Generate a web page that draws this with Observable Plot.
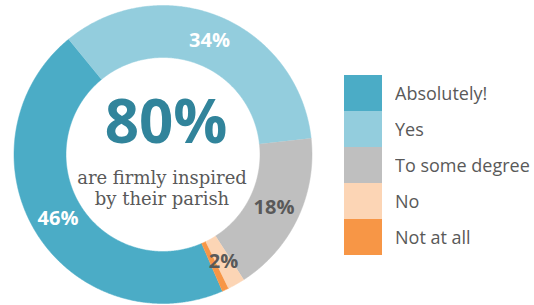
<!DOCTYPE html>
<html>
<head>
<meta charset="utf-8">
<script src="https://cdn.jsdelivr.net/npm/d3@7"></script>
<script src="https://cdn.jsdelivr.net/npm/@observablehq/plot@0.6"></script>
<style>
  html, body { margin: 0; padding: 0; background: #fff; }
  #wrap { position: relative; width: 534px; height: 305px; overflow: hidden; }
  #chart { position: absolute; left: 0; top: 0; }
  #legend { position: absolute; left: 344px; top: 75px; }
  .lg-swatches { font-family: "Open Sans", sans-serif !important; font-size: 18px !important; color: #595959 !important; margin: 0 !important; }
  .lg-swatch { padding: 0 !important; margin: 0 !important; height: 36px; display: flex !important; align-items: center !important; }
  .lg-swatch svg { margin-right: 13px !important; }
</style>
</head>
<body>
<div id="wrap"><div id="chart"></div><div id="legend"></div></div>
<script>
const categories = ["Absolutely!", "Yes", "To some degree", "No", "Not at all"];
const values = [45.6, 34.2, 17.6, 1.9, 0.7];
const labels = ["46%", "34%", "18%", "2%", ""];
const colors = ["#4BACC6", "#93CDDD", "#BFBFBF", "#FCD5B5", "#F79646"];
const lightLabel = [true, true, false, false, false];
const centerValue = "80%";
const centerText = "are firmly inspired\nby their parish";

const startDeg = 156.5;
const innerR = 97 / 149;

const pie = d3.pie().sort(null).value(d => d.value)
  .startAngle(startDeg * Math.PI / 180)
  .endAngle(startDeg * Math.PI / 180 + 2 * Math.PI);
const table = categories.map((c, i) => ({cat: c, value: values[i], label: labels[i], light: lightLabel[i]}));
const arcs = pie(table);

const pts = [];
for (const a of arcs) {
  const n = Math.max(4, Math.ceil((a.endAngle - a.startAngle) / (0.4 * Math.PI / 180)));
  for (let k = 0; k <= n; k++) {
    const t = a.startAngle + (a.endAngle - a.startAngle) * k / n;
    pts.push({cat: a.data.cat, x: Math.sin(t), y: Math.cos(t)});
  }
  for (let k = n; k >= 0; k--) {
    const t = a.startAngle + (a.endAngle - a.startAngle) * k / n;
    pts.push({cat: a.data.cat, x: innerR * Math.sin(t), y: innerR * Math.cos(t)});
  }
}
const midR = (1 + innerR) / 2;
const labelData = arcs.filter(a => a.data.label).map(a => {
  const m = (a.startAngle + a.endAngle) / 2;
  return {x: midR * Math.sin(m), y: midR * Math.cos(m), text: a.data.label, light: a.data.light};
});

const chart = Plot.plot({
  width: 534,
  height: 305,
  x: {domain: [-1, 1], range: [13.5, 311.5], axis: null},
  y: {domain: [-1, 1], range: [303, 5], axis: null},
  color: {domain: categories, range: colors},
  style: {background: "transparent"},
  marks: [
    Plot.line(pts, {x: "x", y: "y", z: "cat", fill: "cat", stroke: "cat", strokeWidth: 0.5}),
    Plot.text(labelData, {filter: d => d.light, x: "x", y: "y", text: "text", fill: "#ffffff",
      fontFamily: "Open Sans", fontWeight: "bold", fontSize: 20}),
    Plot.text(labelData, {filter: d => !d.light, x: "x", y: "y", text: "text", fill: "#595959",
      fontFamily: "Open Sans", fontWeight: "bold", fontSize: 20}),
    Plot.text([centerValue], {x: () => 0, y: () => 0, text: d => d, dx: 3, dy: -31,
      fill: "#31849B", fontFamily: "Open Sans", fontWeight: "bold", fontSize: 60}),
    Plot.text([centerText], {x: () => 0, y: () => 0, text: d => d, dx: -1, dy: 33, lineHeight: 1.205,
      fill: "#595959", fontFamily: "DejaVu Serif", fontSize: 18})
  ]
});
document.getElementById("chart").appendChild(chart);

const legend = Plot.legend({
  color: {type: "ordinal", domain: categories, range: colors},
  legend: "swatches",
  columns: 1,
  swatchWidth: 38,
  swatchHeight: 36,
  className: "lg"
});
document.getElementById("legend").appendChild(legend);
</script>
</body>
</html>
